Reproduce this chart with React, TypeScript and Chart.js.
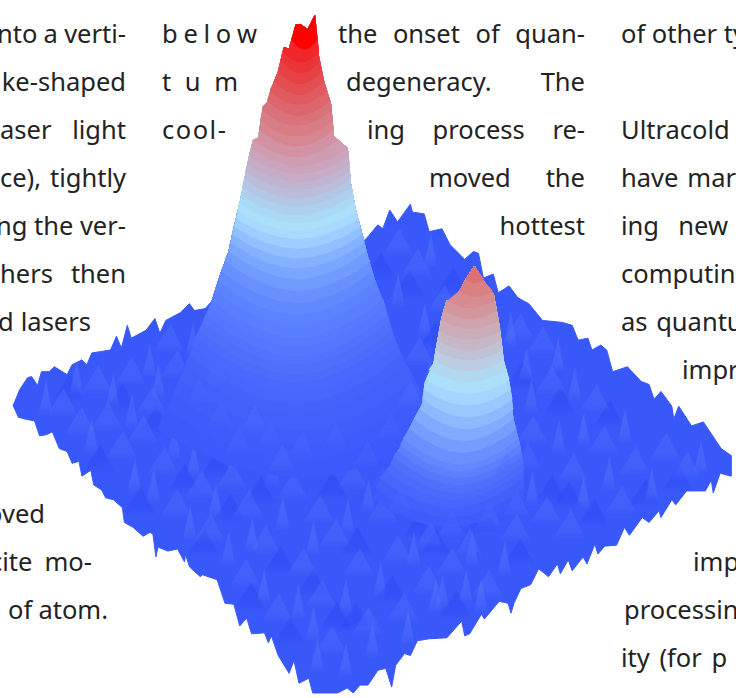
import React, { useEffect, useRef } from "react";
import { Chart, registerables } from "chart.js";

Chart.register(...registerables);

// Projected surface outline of the atom cloud plot as [x, y]
const groundEdge: number[][] = [
  [8,407],[15,390],[23,378],[27,377],[33,386],[37,372],[45,372],[50,367],[63,375],[68,365],[78,360],[83,365],[88,353],[107,350],[113,336],[118,348],[124,325],[128,338],[143,330],[152,318],[157,333],[163,320],[178,312],[187,303],[192,310],[203,308],[210,300],
  [300,260],[363,240],[368,235],[378,223],[383,227],[390,208],[398,220],[411,202],[413,210],[425,212],[430,230],[443,227],[451,243],[466,258],[475,250],[480,252],[485,277],[495,273],[500,292],[511,285],[520,297],[531,303],[545,320],[565,322],[575,325],[581,340],[591,338],[595,350],[604,345],[610,350],[616,372],[631,367],[645,382],[653,385],[658,400],[665,392],[676,407],[678,420],[683,407],[696,427],[708,423],[726,450],[736,457],
  [736,478],[725,475],[718,495],[716,482],[710,493],[691,493],[680,507],[676,502],[665,520],[663,513],[653,525],[646,520],[633,538],[628,530],[620,548],[608,549],[601,557],[598,547],[590,567],[586,560],[575,574],[571,563],[563,577],[560,567],[551,580],[541,572],[533,588],[523,592],[516,607],[513,617],[510,607],[501,605],[486,623],[483,618],[471,638],[466,640],[463,625],[448,642],[430,643],[418,645],[411,660],[405,658],[396,670],[392,692],[386,673],[378,675],[368,690],[360,690],[353,698],[347,693],[337,698],[312,698],
  [308,683],[298,688],[293,665],[288,678],[277,660],[270,640],[267,647],[263,637],[250,638],[245,622],[238,630],[232,608],[223,607],[215,583],[200,578],[198,580],[187,570],[183,557],[182,565],[175,552],[165,554],[155,550],[153,560],[150,537],[147,535],[140,539],[130,530],[121,525],[119,510],[110,502],[102,500],[98,492],[90,487],[87,472],[78,478],[75,463],[68,465],[63,453],[55,450],[48,433],[42,436],[35,437],[30,422],[20,420],[13,418],
];

const bigLeft: number[][] = [[210,300],[218,275],[227,250],[232,227],[240,193],[247,157],[252,137],[257,135],[262,103],[267,98],[270,85],[277,68],[283,43],[288,45],[295,20],[300,20],[307,25],[314,11]];
const bigRight: number[][] = [[318,53],[323,77],[330,100],[333,133],[347,145],[350,180],[355,207],[362,233],[368,257],[375,280],[385,305],[395,340]];
const smallLeft: number[][] = [[391,467],[400,450],[410,430],[415,420],[423,405],[426,383],[435,363],[437,350],[443,317],[448,300],[455,302],[461,290],[468,277],[476,265]];
const smallRight: number[][] = [[485,280],[495,293],[500,320],[504,350],[505,360],[511,383],[515,420],[521,443],[525,467],[525,490]];

// contour: level y, left x, right x, front dip
const bigLevels: number[][] = [
  [430,155,442,50],[410,165,430,52],[395,171,422,52],[380,177,414,52],[365,183,405,52],[355,187,401,50],[345,190,398,48],[337,194,394,46],[330,198,391,45],[322,201,388,43],[315,205,386,42],[307,208,383,40],[300,210,381,38],[290,213,378,36],[280,216,375,34],[270,220,372,32],[260,224,370,30],[250,227,366,28],[241,229,364,26],[233,231,362,24],[225,233,360,22],[217,235,358,20],[209,236,356,20],[201,238,354,20],[193,240,352,20],[185,241,351,19],[177,243,350,19],[169,244,349,18],[161,246,349,18],[153,248,348,18],[145,250,347,18],[137,252,337,17],[127,258,333,16],[117,259,332,16],[107,261,331,15],[97,266,329,15],[87,269,326,14],[77,273,323,14],[67,277,321,13],[57,280,319,12],[47,282,318,11],[35,291,316,10],
];
const bigColors: string[] = ["#3c5afb","#3e5cfb","#405efb","#4360fb","#4563fb","#4866fc","#4a69fc","#4d6cfc","#5070fc","#5273fd","#5477fd","#567afe","#597eff","#5b82ff","#6189ff","#6891ff","#709bff","#79a6ff","#84b2ff","#90c0ff","#9cceff","#a7dbfd","#abe0fb","#aad9f5","#afcfee","#b4c6e6","#bbbcd9","#c0b4d0","#c6acc6","#cba4bb","#cf9db2","#d292a4","#d5868f","#d87d85","#da727a","#dd666c","#e05a60","#e34e52","#e64245","#ea3438","#ef272a","#f4191c"];
const bigTop = "#ff0000";

const smallLevels: number[][] = [
  [500,372,526,30],[490,376,526,30],[480,380,525,30],[472,386,525,30],[465,391,525,30],[458,394,524,29],[452,398,523,28],[446,401,521,27],[440,404,520,26],[430,410,518,24],[420,415,515,22],[410,421,515,20],[400,424,514,18],[390,425,512,16],[380,427,511,14],[370,430,508,12],[360,435,505,11],[350,437,504,10],[340,439,503,10],[330,441,502,9],[320,443,500,8],[310,445,498,8],[300,449,495,7],[290,461,494,6],[278,468,485,4],
];
const smallColors: string[] = ["#3e5cfb","#4360fb","#4865fc","#4c6afc","#5070fc","#5577fd","#5b80fe","#6188fe","#6a90ff","#759dff","#81abff","#8dbaff","#98c8ff","#a3d6fe","#abe0fb","#b2d8f0","#bacde2","#c0c1d4","#c6b6c6","#cbacb9","#cfa2ac","#d2979e","#d68c90","#d98083","#de7075"];
const frontDip: number[] = [0,0.42,0.72,0.92,1,0.92,0.72,0.42,0];

// Noise spikes on the ground plane, read as [x, y]
const wideSpikes: number[][] = [
  [58,404],[93,381],[127,372],[166,339],[103,418],[148,402],[173,365],[118,447],[76,423],[160,463],[139,431],[181,425],[198,487],[229,478],[173,506],[246,507],[291,488],[318,512],[352,478],[207,531],[263,543],[301,566],[334,536],[382,512],[243,577],[276,612],[320,598],[358,566],[397,553],[428,584],[330,645],[367,626],[403,612],[452,566],[489,588],[517,531],[548,513],[575,470],[606,442],[638,463],[669,449],[598,400],[553,381],[534,432],[572,527],[624,503],[690,468],[501,497],[544,341],[521,328],[417,262],[444,299],[419,352],[398,241],
];
const tallSpikes: number[][] = [
  [41,399],[72,379],[109,392],[146,361],[190,340],[87,438],[128,412],[155,382],[131,478],[150,488],[171,444],[191,462],[213,503],[232,453],[271,470],[307,458],[338,463],[187,526],[226,552],[250,538],[281,516],[312,541],[347,519],[368,498],[262,590],[297,606],[312,628],[345,600],[380,583],[414,552],[436,600],[467,590],[473,552],[506,562],[534,491],[561,438],[586,495],[612,475],[655,488],[705,459],[577,385],[533,397],[586,431],[628,428],[560,356],[512,330],[398,290],[431,250],[425,320],[430,378],[528,365],[316,660],[345,665],[372,645],[408,632],[443,596],[482,600],
];
const darkSpikes: number[][] = [
  [64,388],[118,398],[152,421],[95,460],[136,503],[181,480],[214,466],[258,492],[331,487],[227,510],[201,545],[278,563],[311,586],[248,600],[354,621],[391,592],[436,545],[483,521],[456,608],[521,555],[553,491],[596,515],[648,495],[682,480],[612,415],[562,402],[523,376],[409,283],[435,335],[453,280],[380,265],[335,620],[288,635],[570,497],[356,544],[420,526],
];
// spikes seen over the faded skirts of the two peaks
const skirtSpikes: number[][] = [[196,392],[218,415],[236,442],[268,436],[300,447],[334,438],[366,456],[390,428],[405,468],[382,482],[214,372],[410,395],[424,498],[452,527],[490,518],[430,538],[400,503],[518,506],[507,470],[470,546],[529,458],[280,460],[252,420]];

type Word = { t: string; l: number; r?: number; y: number; a?: string; ls?: number; ws?: number };
const pageText: Word[] = [
  { t: "nto a verti-", l: -3, r: 126, y: 33 },
  { t: "ke-shaped", l: 0, r: 126, y: 81, a: "flex-end" },
  { t: "aser light", l: 0, r: 126, y: 129 },
  { t: "ce), tightly", l: 0, r: 126, y: 177 },
  { t: "ng the ver-", l: -4, r: 126, y: 225 },
  { t: "hers then", l: 0, r: 126, y: 273 },
  { t: "d lasers", l: -2, r: 91, y: 321 },
  { t: "oved", l: 0, r: 45, y: 513, a: "flex-end" },
  { t: "cite mo-", l: -10, r: 92, y: 561 },
  { t: "of atom.", l: 8, r: 108, y: 609 },
  { t: "b e l o w", l: 162, r: 257, y: 33 },
  { t: "t u m", l: 162, r: 238, y: 81 },
  { t: "cool-", l: 162, y: 129, ls: 1.5 },
  { t: "the onset of quan-", l: 338, r: 585, y: 33 },
  { t: "degeneracy. The", l: 346, r: 585, y: 81 },
  { t: "ing process re-", l: 367, r: 585, y: 129 },
  { t: "moved the", l: 429, r: 585, y: 177 },
  { t: "hottest", l: 496, r: 585, y: 225, a: "flex-end" },
  { t: "of other ty", l: 621, y: 33 },
  { t: "Ultracold", l: 621, y: 129 },
  { t: "have mar", l: 621, r: 736, y: 177 },
  { t: "ing new", l: 621, r: 728, y: 225 },
  { t: "computin", l: 621, y: 273 },
  { t: "as quantu", l: 621, y: 321, ws: 2 },
  { t: "impr", l: 682, y: 369 },
  { t: "imp", l: 693, y: 561 },
  { t: "processin", l: 624, y: 609 },
  { t: "ity (for p", l: 621, y: 657, ws: 3 },
];

const groundColor = "#3858fa";

function pts(list: number[][]) {
  return list.map(([x, y]) => ({ x, y }));
}

function layer(level: number[], left: number[][], right: number[][], color: string) {
  const [y, xl, xr, dip] = level;
  const path: number[][] = [[xl, y]];
  left.filter((p) => p[1] < y).forEach((p) => path.push(p));
  right.filter((p) => p[1] < y).forEach((p) => path.push(p));
  const n = frontDip.length - 1;
  frontDip.forEach((d, i) => {
    const t = i / n;
    path.push([xr + (xl - xr) * t, y + dip * d]);
  });
  return {
    type: "line" as const,
    data: pts(path),
    fill: "shape",
    tension: 0,
    borderWidth: 1,
    borderColor: color,
    backgroundColor: color,
    pointRadius: 0,
  };
}

function sprite(w: number, h: number, rgb: string, a: number) {
  const c = document.createElement("canvas");
  c.width = w;
  c.height = h;
  const g = c.getContext("2d")!;
  const grad = g.createLinearGradient(0, 0, 0, h);
  grad.addColorStop(0, `rgba(${rgb},${a})`);
  grad.addColorStop(0.7, `rgba(${rgb},${a * 0.8})`);
  grad.addColorStop(1, `rgba(${rgb},0)`);
  g.fillStyle = grad;
  g.beginPath();
  g.moveTo(w * 0.55, 0);
  g.lineTo(w, h);
  g.lineTo(0, h);
  g.closePath();
  g.fill();
  return c;
}

function spikes(list: number[][], style: HTMLCanvasElement) {
  return {
    type: "line" as const,
    data: pts(list),
    showLine: false,
    pointRadius: 2,
    pointStyle: style,
    fill: false,
  };
}

export default function App() {
  const ref = useRef<HTMLCanvasElement>(null);
  useEffect(() => {
    if (!ref.current) return;
    const wide = sprite(34, 30, "100,128,255", 0.28);
    const tall = sprite(15, 36, "104,132,255", 0.34);
    const dark = sprite(32, 28, "38,62,238", 0.3);
    const soft = sprite(30, 30, "78,108,255", 0.3);
    const ordered: any[] = [
      {
        type: "line",
        data: pts(groundEdge),
        fill: "shape",
        tension: 0,
        borderWidth: 1,
        borderColor: groundColor,
        backgroundColor: groundColor,
        pointRadius: 0,
      },
      spikes(darkSpikes, dark),
      spikes(wideSpikes, wide),
      spikes(tallSpikes, tall),
      ...bigLevels.map((lv, i) => layer(lv, bigLeft, bigRight, bigColors[i])),
      layer([35, 291, 316, 10], bigLeft, bigRight, bigTop),
      spikes(skirtSpikes, soft),
      ...smallLevels.map((lv, i) => layer(lv, smallLeft, smallRight, smallColors[i])),
      spikes(skirtSpikes.slice(10), soft),
    ];
    const datasets = ordered.map((d, i) => ({ ...d, order: ordered.length - i, clip: false }));
    const chart = new Chart(ref.current, {
      type: "line",
      data: { datasets },
      options: {
        animation: false,
        responsive: false,
        devicePixelRatio: 1,
        layout: { padding: 0 },
        parsing: false as any,
        normalized: false,
        events: [],
        plugins: { legend: { display: false }, tooltip: { enabled: false }, title: { display: false } },
        scales: {
          x: { type: "linear", min: 0, max: 736, display: false },
          y: { type: "linear", min: 0, max: 698, reverse: true, display: false },
        },
      } as any,
    });
    return () => chart.destroy();
  }, []);

  return (
    <div style={{ position: "absolute", left: 0, top: 0, width: 736, height: 698, overflow: "hidden", background: "#fff" }}>
      {pageText.map((w, i) => (
        <div
          key={i}
          style={{
            position: "absolute",
            left: w.l,
            top: w.y - 20,
            width: w.r !== undefined ? w.r - w.l : undefined,
            height: 40,
            font: "25.5px/40px 'Noto Sans', sans-serif",
            color: "#232323",
            whiteSpace: "nowrap",
            display: "flex",
            justifyContent: w.a || (w.r !== undefined ? "space-between" : "flex-start"),
            letterSpacing: w.ls,
          }}
        >
          {w.r !== undefined ? w.t.split(" ").map((s, j) => <span key={j}>{s}</span>) : <span style={{ wordSpacing: w.ws, whiteSpace: "pre" }}>{w.t}</span>}
        </div>
      ))}
      <canvas ref={ref} width={736} height={698} style={{ position: "absolute", left: 0, top: 0, display: "block" }} />
    </div>
  );
}
